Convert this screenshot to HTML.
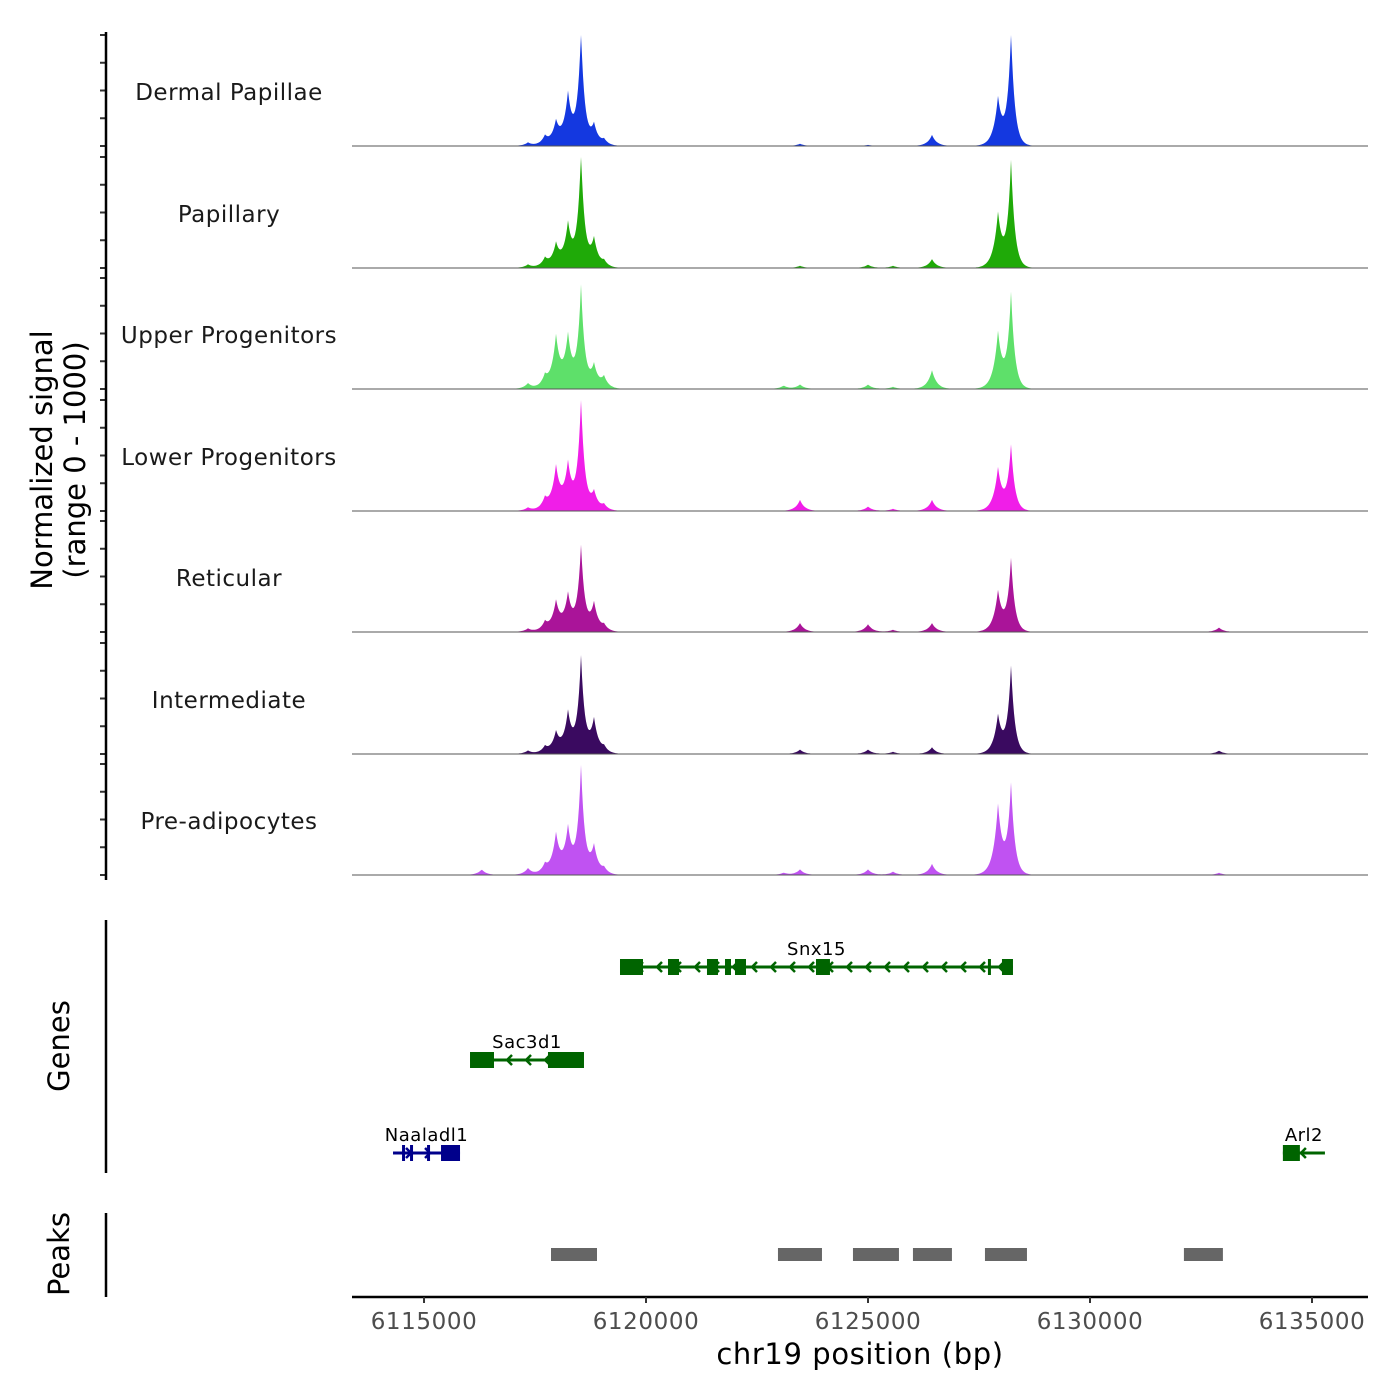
<!DOCTYPE html>
<html><head><meta charset="utf-8"><style>
body{margin:0;background:#fff;}
svg{display:block;font-family:"DejaVu Sans","Liberation Sans",sans-serif;}
</style></head><body>
<svg id="chart" width="1400" height="1400" viewBox="0 0 1400 1400"></svg>
<script>
// ---- data ----
const trackNames = ["Dermal Papillae","Papillary","Upper Progenitors","Lower Progenitors","Reticular","Intermediate","Pre-adipocytes"];
const trackColors = ["#1438e0","#1faa08","#5ee06a","#f01ee8","#aa1499","#3a0a60","#c052f2"];
// peak centres (bp)
const peakPos = [6116300,6117342,6117725,6117973,6118243,6118536,6118829,6119054,6123100,6123468,6125000,6125563,6126441,6127928,6128221,6132905];
// relative peak heights per track (0-1, 1 = range max)
const dpVals   = [0.00,0.03,0.08,0.20,0.45,1.00,0.18,0.05,0.00,0.02,0.01,0.00,0.10,0.42,1.00,0.00];
const papVals  = [0.00,0.03,0.08,0.20,0.38,1.00,0.25,0.05,0.00,0.02,0.03,0.02,0.08,0.48,0.95,0.00];
const upVals   = [0.00,0.05,0.10,0.45,0.45,0.90,0.20,0.10,0.03,0.04,0.04,0.02,0.17,0.50,0.85,0.00];
const lowVals  = [0.00,0.03,0.10,0.38,0.40,0.98,0.16,0.05,0.00,0.10,0.04,0.02,0.10,0.38,0.58,0.00];
const retVals  = [0.00,0.03,0.08,0.26,0.32,0.75,0.25,0.05,0.00,0.08,0.07,0.02,0.08,0.36,0.65,0.04];
const intVals  = [0.00,0.03,0.06,0.18,0.36,0.85,0.30,0.05,0.00,0.04,0.04,0.02,0.06,0.34,0.78,0.03];
const preVals  = [0.05,0.06,0.08,0.35,0.40,0.95,0.25,0.05,0.02,0.05,0.05,0.03,0.10,0.62,0.80,0.02];
const trackVals = [dpVals,papVals,upVals,lowVals,retVals,intVals,preVals];
// genes: [label,start,end,row,color,strand]
const genes = [["Snx15",6119414,6128265,0,"#006400",-1],["Sac3d1",6116036,6118603,1,"#006400",-1],["Naaladl1",6114302,6115811,2,"#00008b",1],["Arl2",6134344,6135291,2,"#006400",-1]];
const exons = [[0,6119414,6119932],[0,6120495,6120743],[0,6121373,6121621],[0,6121779,6121914],[0,6122004,6122252],[0,6123828,6124143],[0,6127701,6127746],[0,6128017,6128265],
  [1,6116036,6116576],[1,6117792,6118603],[2,6114505,6114570],[2,6114685,6114750],[2,6115068,6115110],[2,6115383,6115811],[3,6134344,6134727]];
const peaksStart = [6117860,6122972,6124661,6126012,6127634,6132115];
const peaksEnd   = [6118896,6123963,6125697,6126890,6128580,6132993];
const xTicks = [6115000,6120000,6125000,6130000,6135000];

// ---- scales ----
const X0=352,X1=1368,D0=6113378,D1=6136261;
const xs=v=>X0+(v-D0)/(D1-D0)*(X1-X0);
const baselines=[146,268,389,511,632,754,875];
const H=111;
const svg=document.getElementById('chart');
const NS="http://www.w3.org/2000/svg";
function mk(tag,attrs,parent){const e=document.createElementNS(NS,tag);for(const k in attrs)e.setAttribute(k,attrs[k]);(parent||svg).appendChild(e);return e;}

// tracks
trackVals.forEach((vals,t)=>{
  const g=mk('g',{});
  
  
  const b=baselines[t];
  let d=`M${X0},${b}`;
  for(let px=X0;px<=X1;px+=1){
    let y=0;
    vals.forEach((v,i)=>{const c=xs(peakPos[i]);const s=(i===5||i===14)?3.8:4.8;const dx=Math.abs(px-c)/s;y+=v*Math.exp(-dx);});
    y=Math.min(y,1);
    d+=`L${px},${(b-y*H).toFixed(1)}`;
  }
  d+=`L${X1},${b}Z`;
  const p=mk('path',{d:d,fill:trackColors[t]},g);
  
  
  const bl=mk('line',{x1:X0,x2:X1,y1:b,y2:b,stroke:'#555','stroke-width':1},g);
  
  
  const lab=mk('text',{x:229,y:b-46,'text-anchor':'middle','font-size':23,'letter-spacing':'0.5',fill:'#1a1a1a'},g);
  lab.textContent=trackNames[t];
  
  
  for(let k=0;k<5;k++){
    const tk=mk('line',{x1:100,x2:106,y1:b-k*27.75,y2:b-k*27.75,stroke:'#333','stroke-width':2});
    
    
  }
});
const ya=mk('line',{x1:106,x2:106,y1:32,y2:880,stroke:'#000','stroke-width':2.5});


const yt=mk('text',{transform:'translate(52,460) rotate(-90)','text-anchor':'middle','font-size':29,fill:'#000'});


yt.innerHTML='<tspan x="0" dy="0">Normalized signal</tspan><tspan x="0" dy="33">(range 0 - 1000)</tspan>';

// genes
const rowY=[967,1060,1153];
const ga=mk('line',{x1:106,x2:106,y1:920,y2:1173,stroke:'#000','stroke-width':2.5});


const gt=mk('text',{transform:'translate(69,1046) rotate(-90)','text-anchor':'middle','font-size':29});
gt.textContent='Genes';


genes.forEach((gn,i)=>{
  const y=rowY[gn[3]],c=gn[4],a=xs(gn[1]),z=xs(gn[2]);
  const g=mk('g',{});
  
  
  mk('line',{x1:a,x2:z,y1:y,y2:y,stroke:c,'stroke-width':3},g);
  for(let px=a+18;px<z-8;px+=19){
    const s=gn[5];
    mk('polyline',{points:`${px-5*s},${y-5} ${px},${y} ${px-5*s},${y+5}`,fill:'none',stroke:c,'stroke-width':2.5},g);
  }
  const t=mk('text',{x:(a+z)/2,y:y-12,'text-anchor':'middle','font-size':18,'letter-spacing':'0.5',fill:'#000'},g);
  t.textContent=gn[0];
  exons.filter(e=>e[0]===i).forEach(e=>{
    const r=mk('rect',{x:xs(e[1]),y:y-8,width:Math.max(3,xs(e[2])-xs(e[1])),height:16,fill:c},g);
    
    
  });
});

// peaks
const pa=mk('line',{x1:106,x2:106,y1:1213,y2:1297,stroke:'#000','stroke-width':2.5});


const pt=mk('text',{transform:'translate(69,1254) rotate(-90)','text-anchor':'middle','font-size':29});
pt.textContent='Peaks';


peaksStart.forEach((s,i)=>{
  const r=mk('rect',{x:xs(s),y:1248,width:xs(peaksEnd[i])-xs(s),height:13,fill:'#666'});
  
  
});

// x axis
const xa=mk('line',{x1:X0,x2:X1,y1:1297,y2:1297,stroke:'#000','stroke-width':2.5});


xTicks.forEach(v=>{
  const tk=mk('line',{x1:xs(v),x2:xs(v),y1:1297,y2:1303,stroke:'#333','stroke-width':2});
  
  
  const tl=mk('text',{x:xs(v),y:1329,'text-anchor':'middle','font-size':23,'letter-spacing':'0.6',fill:'#4d4d4d'});
  tl.textContent=v;
  
  
});
const xt=mk('text',{x:860,y:1364,'text-anchor':'middle','font-size':29,'letter-spacing':'0.6',fill:'#000'});
xt.textContent='chr19 position (bp)';


</script>
</body></html>
